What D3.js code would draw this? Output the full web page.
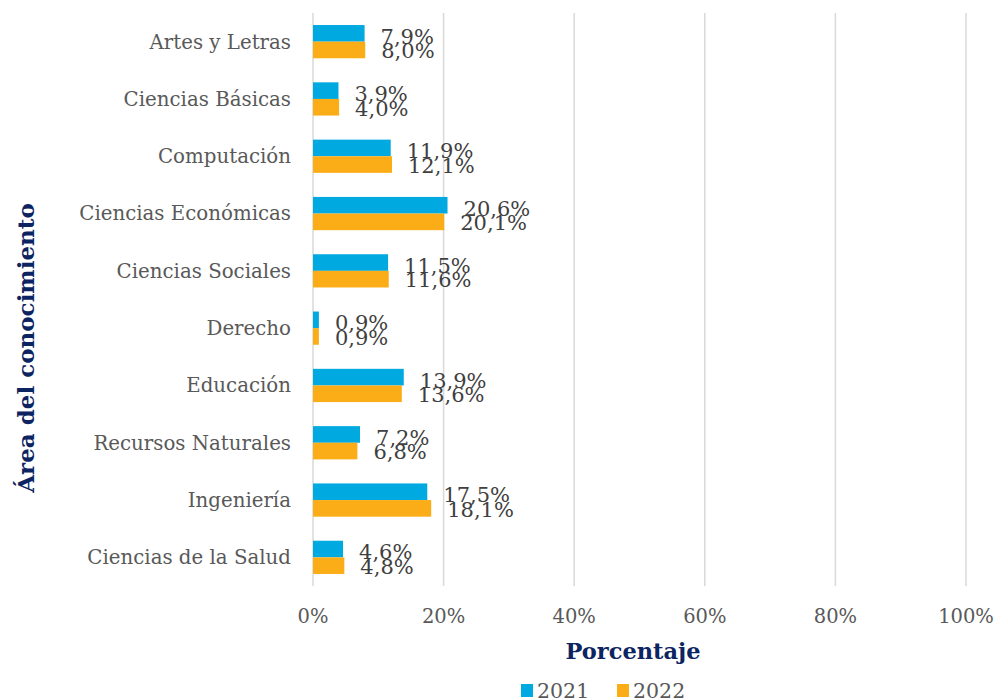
<!DOCTYPE html>
<html>
<head>
<meta charset="utf-8">
<script src="https://cdn.jsdelivr.net/npm/d3@7"></script>
<style>
  body { margin: 0; background: #fff; }
  text { font-family: "DejaVu Serif", serif; }
</style>
</head>
<body>
<svg id="chart" width="997" height="700"></svg>
<script>
const categories = ['Artes y Letras', 'Ciencias Básicas', 'Computación', 'Ciencias Económicas',
    'Ciencias Sociales', 'Derecho', 'Educación', 'Recursos Naturales', 'Ingeniería', 'Ciencias de la Salud'];
const series = ['2021', '2022'];
const values2021 = [7.9, 3.9, 11.9, 20.6, 11.5, 0.9, 13.9, 7.2, 17.5, 4.6];
const values2022 = [8.0, 4.0, 12.1, 20.1, 11.6, 0.9, 13.6, 6.8, 18.1, 4.8];
const xTicks = [0, 20, 40, 60, 80, 100];

const colors = {'2021': '#00a9e0', '2022': '#fbad18'};
const grey = '#595959';
const navy = '#0c2461';

const svg = d3.select('#chart');
const margin = {left: 313, right: 31, top: 13, bottom: 114};
const W = 997, H = 700;

const x = d3.scaleLinear().domain([0, 100]).range([margin.left, W - margin.right]);
const y = d3.scaleBand().domain(categories).range([margin.top, H - margin.bottom]).paddingInner(0.42).paddingOuter(0.21);
const ySub = d3.scaleBand().domain(series).range([0, y.bandwidth()]);

// Gridlines
svg.append('g')
    .selectAll('line')
    .data(xTicks)
    .join('line')
    .attr('x1', d => x(d)).attr('x2', d => x(d))
    .attr('y1', margin.top).attr('y2', H - margin.bottom)
    .attr('stroke', '#d9d9d9')
    .attr('stroke-width', 1.5);

// Bars
const rows = categories.map((c, i) => ({cat: c, vals: [values2021[i], values2022[i]]}));
const groups = svg.append('g')
    .selectAll('g')
    .data(rows)
    .join('g')
    .attr('transform', d => `translate(0,${y(d.cat)})`);

groups.selectAll('rect')
    .data(d => d.vals.map((v, j) => ({s: series[j], v: v})))
    .join('rect')
    .attr('x', x(0))
    .attr('y', d => ySub(d.s))
    .attr('width', d => x(d.v) - x(0))
    .attr('height', ySub.bandwidth())
    .attr('fill', d => colors[d.s]);

// Value labels (they overlap in the original too)
groups.selectAll('text')
    .data(d => d.vals.map((v, j) => ({s: series[j], v: v})))
    .join('text')
    .attr('x', d => x(d.v) + 16)
    .attr('y', d => ySub(d.s) + ySub.bandwidth() / 2 + (d.s === '2021' ? 3 : 1))
    .attr('dy', '0.35em')
    .attr('fill', '#404040')
    .attr('font-size', 21)
    .text(d => d.v.toFixed(1).replace('.', ',') + '%');

// Category labels
svg.append('g')
    .selectAll('text')
    .data(categories)
    .join('text')
    .attr('x', 291)
    .attr('y', d => y(d) + y.bandwidth() / 2)
    .attr('dy', '0.35em')
    .attr('text-anchor', 'end')
    .attr('fill', grey)
    .attr('font-size', 19.8)
    .text(d => d);

// X tick labels
svg.append('g')
    .selectAll('text')
    .data(xTicks)
    .join('text')
    .attr('x', d => x(d))
    .attr('y', 616)
    .attr('dy', '0.35em')
    .attr('text-anchor', 'middle')
    .attr('fill', grey)
    .attr('font-size', 19.5)
    .text(d => d + '%');

// Axis titles
svg.append('text')
    .attr('x', 633).attr('y', 651)
    .attr('dy', '0.35em')
    .attr('text-anchor', 'middle')
    .attr('fill', navy)
    .attr('font-weight', 'bold')
    .attr('font-size', 22.5)
    .text('Porcentaje');

svg.append('text')
    .attr('transform', 'translate(26,348) rotate(-90)')
    .attr('dy', '0.35em')
    .attr('text-anchor', 'middle')
    .attr('fill', navy)
    .attr('font-weight', 'bold')
    .attr('font-size', 23)
    .text('Área del conocimiento');

// Legend
const legend = svg.append('g')
    .selectAll('g')
    .data(series)
    .join('g')
    .attr('transform', (d, i) => `translate(${521 + i * 96},684)`);
legend.append('rect')
    .attr('width', 12).attr('height', 13)
    .attr('fill', d => colors[d]);
legend.append('text')
    .attr('x', 16).attr('y', 7)
    .attr('dy', '0.35em')
    .attr('fill', grey)
    .attr('font-size', 20.5)
    .text(d => d);
</script>
</body>
</html>
